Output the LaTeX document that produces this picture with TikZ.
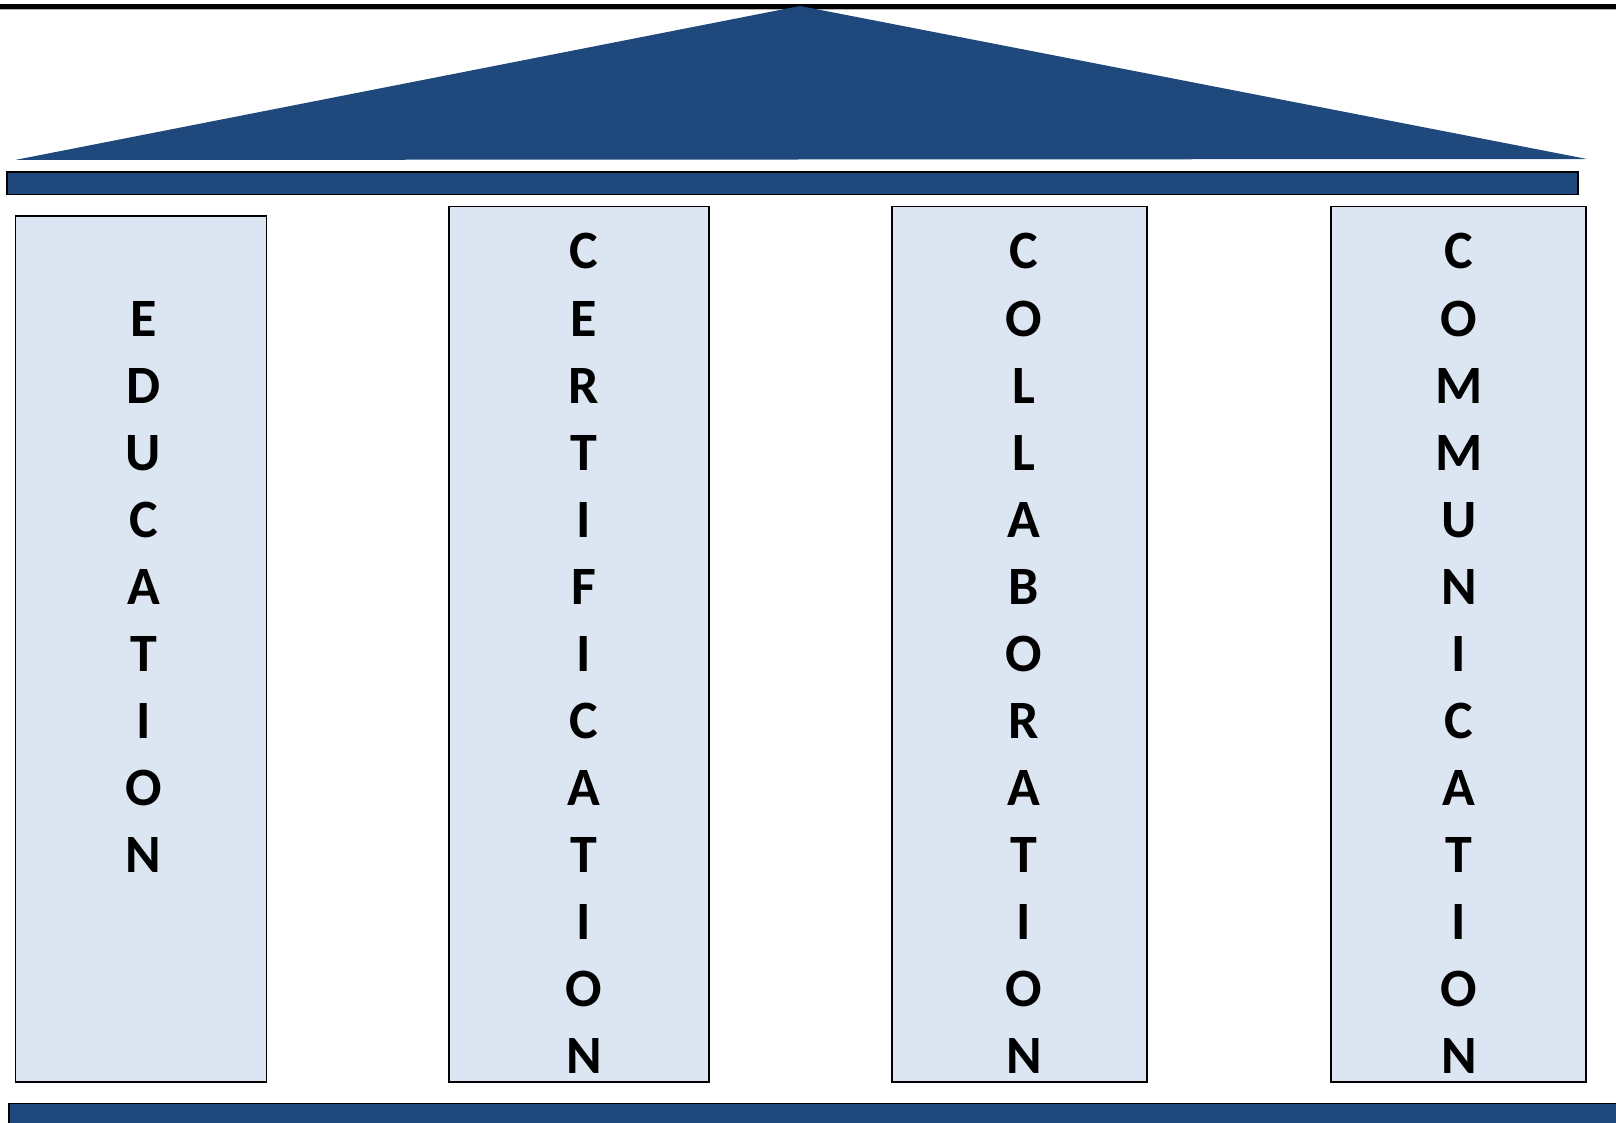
\documentclass[tikz,border=0pt]{standalone}
\usepackage{fontspec}
\setmainfont{Carlito}
\definecolor{roofblue}{HTML}{1F497D}
\definecolor{pillarfill}{HTML}{DCE6F2}
\tikzset{
  pillar/.style={draw=black, fill=pillarfill, line width=1.5pt, inner sep=0pt},
  beam/.style={draw=black, fill=roofblue, line width=1.5pt},
  letter/.style={anchor=base, inner sep=0pt, font=\fontsize{54}{60}\selectfont\bfseries},
}
\begin{document}
\begin{tikzpicture}[x=1pt, y=-1pt]
  \useasboundingbox (0,0) rectangle (1616,1123);
  \clip (0,0) rectangle (1616,1123);
  % 屋顶与横梁
  \draw[line width=5pt] (0,6.5) -- (1616,6.5);
  \draw[gray!60, line width=1pt] (0,9.5) -- (1616,9.5);
  \fill[roofblue] (15,160) -- (800,6) -- (1587,159) -- cycle;
  \draw[beam] (7,172) rectangle (1578,194.5);

  % 四根柱子
  \node[pillar, minimum width=251pt, minimum height=866pt] (edu) at (141,649) {};
  \node[pillar, minimum width=260pt, minimum height=875.5pt] (cert) at (579,644.25) {};
  \node[pillar, minimum width=255pt, minimum height=875.5pt] (collab) at (1019.5,644.25) {};
  \node[pillar, minimum width=255pt, minimum height=875.5pt] (comm) at (1458.5,644.25) {};

  % 竖排文字
  \foreach \ch [count=\k from 1] in {E,D,U,C,A,T,I,O,N}
    \node[letter] (edu-\k) at (143.5,269+67*\k) {\ch};
  \foreach \ch [count=\k from 0] in {C,E,R,T,I,F,I,C,A,T,I,O,N}
    \node[letter] (cert-\k) at (584,269+67*\k) {\ch};
  \foreach \ch [count=\k from 0] in {C,O,L,L,A,B,O,R,A,T,I,O,N}
    \node[letter] (collab-\k) at (1024,269+67*\k) {\ch};
  \foreach \ch [count=\k from 0] in {C,O,M,M,U,N,I,C,A,T,I,O,N}
    \node[letter] (comm-\k) at (1459,269+67*\k) {\ch};

  % 底座
  \draw[beam] (9,1103.5) rectangle (1630,1140);
\end{tikzpicture}
\end{document}
